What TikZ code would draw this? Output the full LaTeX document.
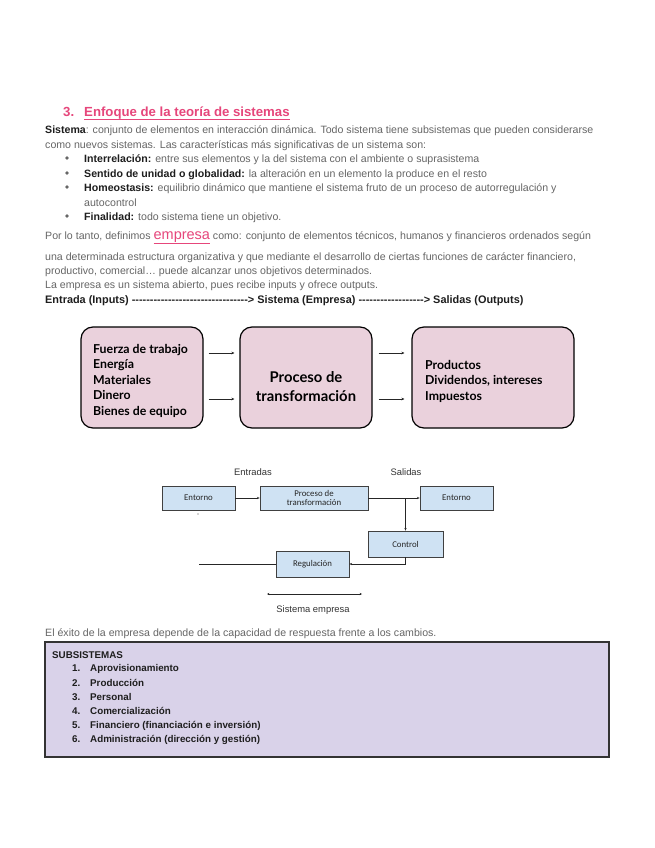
\documentclass[tikz,border=0pt]{standalone}
\usepackage{fontspec}
\setmainfont{Liberation Sans}
\newfontfamily\diagfont{Lato}
\newfontfamily\smallfont{Carlito}
\usetikzlibrary{arrows.meta}
\definecolor{pinkhead}{HTML}{E6467B}
\definecolor{bodygray}{HTML}{666666}
\definecolor{darktext}{HTML}{1E1E1E}
\definecolor{boxpink}{HTML}{EAD1DC}
\definecolor{boxblue}{HTML}{CFE2F3}
\definecolor{boxpurple}{HTML}{D9D2E9}
\newcommand{\bl}[1]{{\bfseries\color{darktext}#1}}
\tikzset{
  body/.style={anchor=base west, inner sep=0pt, text=bodygray, font=\fontsize{10.6}{12}\selectfont},
  boldline/.style={anchor=base west, inner sep=0pt, text=darktext, font=\bfseries\fontsize{10.9}{12}\selectfont},
  headtxt/.style={anchor=base west, inner sep=0pt, text=pinkhead, font=\bfseries\fontsize{13.2}{15}\selectfont},
  bigbox/.style={draw=black, line width=1.2pt, fill=boxpink, rounded corners=12pt, inner sep=0pt},
  bigtxt/.style={inner sep=0pt, text=black, font=\diagfont\bfseries\fontsize{12.3}{15.5}\selectfont, align=left},
  midtxt/.style={inner sep=0pt, text=black, font=\diagfont\bfseries\fontsize{14.8}{19}\selectfont, align=center},
  bigarrow/.style={-{Stealth[length=3pt,width=2.6pt]}, line width=0.7pt, black!85},
  smallbox/.style={draw=black!75, line width=0.8pt, fill=boxblue, inner sep=0pt,
    font=\smallfont\fontsize{8.8}{9.5}\selectfont, text=black!85, align=center},
  smallarrow/.style={-{Stealth[length=2.6pt,width=2.2pt]}, line width=0.6pt, black!85},
  smalllabel/.style={inner sep=0pt, text=black!80, font=\fontsize{9.4}{10}\selectfont},
  subtxt/.style={anchor=base west, inner sep=0pt, text=darktext, font=\bfseries\fontsize{9.8}{11}\selectfont},
}
\begin{document}
\begin{tikzpicture}[x=1pt,y=-1pt]
\useasboundingbox[fill=white] (0,0) rectangle (655,848);

% ---- heading
\node[headtxt] (hnum) at (63,117) {3.};
\node[headtxt] (htitle) at (84,117) {Enfoque de la teoría de sistemas};
\draw[pinkhead, line width=0.9pt] ([yshift=-2.6pt]htitle.base west) -- ([yshift=-2.6pt]htitle.base east);

% ---- first paragraph
\node[body] (p1) at (45,134) {\bl{Sistema}: conjunto de elementos en interacción dinámica. Todo sistema tiene subsistemas que pueden considerarse};
\node[body] (p2) at (45,149) {como nuevos sistemas. Las características más significativas de un sistema son:};
\foreach \yy in {158,173,187,216} \fill[bodygray] (67,\yy) circle (1.8);
\node[body] (b1) at (84,162) {\bl{Interrelación:} entre sus elementos y la del sistema con el ambiente o suprasistema};
\node[body] (b2) at (84,177) {\bl{Sentido de unidad o globalidad:} la alteración en un elemento la produce en el resto};
\node[body] (b3) at (84,191) {\bl{Homeostasis:} equilibrio dinámico que mantiene el sistema fruto de un proceso de autorregulación y};
\node[body] (b3b) at (84,206) {autocontrol};
\node[body] (b4) at (84,220) {\bl{Finalidad:} todo sistema tiene un objetivo.};

% ---- second paragraph
\node[body] (q1) at (45,239) {Por lo tanto, definimos {\fontsize{14.5}{15}\selectfont\color{pinkhead}\underline{empresa}} como: conjunto de elementos técnicos, humanos y financieros ordenados según};
\node[body] (q2) at (45,260) {una determinada estructura organizativa y que mediante el desarrollo de ciertas funciones de carácter financiero,};
\node[body] (q3) at (45,274) {productivo, comercial… puede alcanzar unos objetivos determinados.};
\node[body] (q4) at (45,288) {La empresa es un sistema abierto, pues recibe inputs y ofrece outputs.};
\node[boldline] (q5) at (45,303) {Entrada (Inputs) \foreach\i in {1,...,32}{-{}}> Sistema (Empresa) \foreach\i in {1,...,18}{-{}}> Salidas (Outputs)};

% ---- big diagram
\node[bigbox, minimum width=122pt, minimum height=101pt] (inbox) at (142,377.5) {};
\node[bigbox, minimum width=132pt, minimum height=101pt] (midbox) at (306,377.5) {};
\node[bigbox, minimum width=162pt, minimum height=101pt] (outbox) at (493,377.5) {};
\node[bigtxt, anchor=north west] (intxt) at (93,344) {Fuerza de trabajo\\Energía\\Materiales\\Dinero\\Bienes de equipo};
\node[midtxt] (midtxt) at (306,387) {Proceso de\\transformación};
\node[bigtxt, anchor=north west] (outtxt) at (425,360) {Productos\\Dividendos, intereses\\Impuestos};
\draw[bigarrow, shorten <=5pt, shorten >=5pt] ([yshift=24.5pt]inbox.east) -- ([yshift=24.5pt]midbox.west);
\draw[bigarrow, shorten <=5pt, shorten >=5pt] ([yshift=-21.5pt]inbox.east) -- ([yshift=-21.5pt]midbox.west);
\draw[bigarrow, shorten <=6pt, shorten >=7pt] ([yshift=24.5pt]midbox.east) -- ([yshift=24.5pt]outbox.west);
\draw[bigarrow, shorten <=6pt, shorten >=7pt] ([yshift=-21.5pt]midbox.east) -- ([yshift=-21.5pt]outbox.west);

% ---- small diagram
\node[smalllabel] (lentr) at (253,472) {Entradas};
\node[smalllabel] (lsal) at (406,472) {Salidas};
\node[smallbox, minimum width=73pt, minimum height=24pt] (ent1) at (198.5,498) {Entorno};
\node[smallbox, minimum width=108pt, minimum height=24pt] (proc) at (314,498) {Proceso de\\transformación};
\node[smallbox, minimum width=73pt, minimum height=24pt] (ent2) at (456.5,498) {Entorno};
\node[smallbox, minimum width=75pt, minimum height=26pt] (control) at (405.5,544) {Control};
\node[smallbox, minimum width=73pt, minimum height=26pt] (reg) at (312.5,564) {Regulación};
\draw[smallarrow] (ent1.east) -- (proc.west);
\draw[smallarrow] (proc.east) -- (ent2.west);
\coordinate (br) at (control.north |- proc.east);
\draw[smallarrow] (br) -- (control.north);
\draw[smallarrow] (control.south) |- (reg.east);
\coordinate (regend) at (ent1.south |- reg.west);
\draw[line width=0.6pt, black!85] (reg.west) -- (regend);
\fill[black!70] (198,514) circle (0.6);
\coordinate (sa) at (267,594);
\coordinate (sb) at (362,594);
\draw[{Stealth[length=2.4pt,width=2.2pt]}-{Stealth[length=2.4pt,width=2.2pt]}, line width=0.5pt, black!85] (sa) -- (sb);
\node[smalllabel] (lsis) at (313,610) {Sistema empresa};

% ---- closing
\node[body] (r1) at (45,636) {El éxito de la empresa depende de la capacidad de respuesta frente a los cambios.};
\node[draw=black!80, line width=1.2pt, fill=boxpurple, minimum width=564pt, minimum height=115pt, inner sep=0pt] (subbox) at (327,699.5) {};
\node[subtxt] (subh) at (52,658) {SUBSISTEMAS};
\foreach \n/\t/\yy in {1/Aprovisionamiento/671.5, 2/Producción/686.5, 3/Personal/700.5, 4/Comercialización/714.5, 5/Financiero (financiación e inversión)/728.5, 6/Administración (dirección y gestión)/742.5}{
  \node[subtxt] (num\n) at (72,\yy) {\n.};
  \node[subtxt] (item\n) at (90,\yy) {\t};
}
\end{tikzpicture}
\end{document}
